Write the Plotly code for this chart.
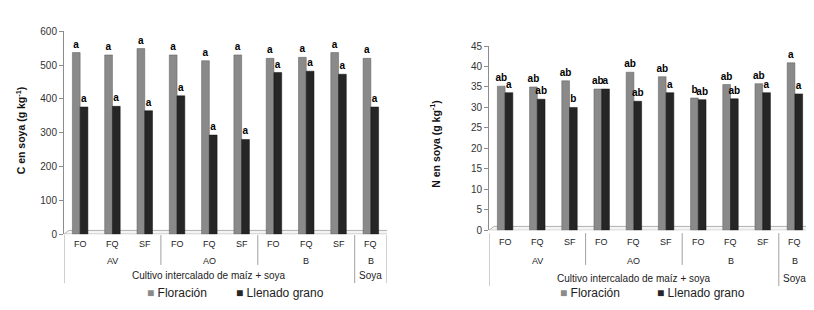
import plotly.graph_objects as go

# ---------------- data ----------------
cats = ["FO", "FQ", "SF", "FO", "FQ", "SF", "FO", "FQ", "SF", "FQ"]
sistema = ["AV", "AO", "B", "B"]
sistema_span = [(0, 2), (3, 5), (6, 8), (9, 9)]
cultivo = ["Cultivo intercalado de maíz + soya", "Soya"]
cultivo_span = [(0, 8), (9, 9)]

c_flor = [537, 530, 549, 530, 513, 530, 520, 523, 537, 520]
c_llen = [376, 378, 365, 409, 293, 280, 478, 482, 473, 376]
c_flor_lbl = ["a"] * 10
c_llen_lbl = ["a"] * 10

n_flor = [35.2, 35.0, 36.5, 34.5, 38.6, 37.5, 32.3, 35.6, 35.8, 40.9]
n_llen = [33.6, 32.0, 30.0, 34.5, 31.5, 33.6, 31.9, 32.1, 33.6, 33.3]
n_flor_lbl = ["ab", "ab", "ab", "ab", "ab", "ab", "b", "ab", "ab", "a"]
n_llen_lbl = ["a", "ab", "b", "a", "ab", "a", "ab", "ab", "a", "a"]

series_names = ["Floración", "Llenado grano"]
# --------------------------------------

W, H = 814, 310
COL_F = "#8a8a8a"
COL_L = "#262626"
FONT = "Liberation Sans"

def py(p):  # pixel row -> paper y
    return 1 - p / H

idx = list(range(len(cats)))
fig = go.Figure()

panels = [
    dict(xa="x", ya="y", flor=c_flor, llen=c_llen, fl=c_flor_lbl, ll=c_llen_lbl,
         rows=(239, 257, 272), sep_short=261, sep_long=280, floor_h=11,
         legx=(137, 226)),
    dict(xa="x2", ya="y2", flor=n_flor, llen=n_llen, fl=n_flor_lbl, ll=n_llen_lbl,
         rows=(237, 257, 275), sep_short=261, sep_long=283, floor_h=0.95,
         legx=(550, 647)),
]

def lab(x, y, xref, text, size=9):
    fig.add_annotation(x=x, y=y, xref=xref, yref="paper", text=text, showarrow=False,
                       xanchor="center", yanchor="middle",
                       font=dict(family=FONT, size=size, color="#222"))

for p in panels:
    for vals, lbl, name, col in [(p["flor"], p["fl"], series_names[0], COL_F),
                                 (p["llen"], p["ll"], series_names[1], COL_L)]:
        fig.add_trace(go.Bar(
            x=idx, y=vals, name=name, xaxis=p["xa"], yaxis=p["ya"],
            marker=dict(color=col, line=dict(color="#5a5a5a" if col == COL_F else "#111111", width=0.5)),
            text=lbl, textposition="outside", cliponaxis=False,
            textfont=dict(family=FONT, size=10, color="#000000", weight="bold"),
            showlegend=False,
        ))

    axref = p["xa"]
    yref = p["ya"]
    # floor (3D base)
    fh = p["floor_h"]
    fig.add_shape(type="path", xref=axref, yref=yref,
                  path=f"M -0.5,0 L 9.5,0 L 9.72,{fh} L -0.35,{fh} Z",
                  fillcolor="#f4f4f4", line=dict(color="#b0b0b0", width=1), layer="below")
    # category level labels
    for i, c in enumerate(cats):
        lab(i, py(p["rows"][0]), axref, c)
    for s, (a, b) in zip(sistema, sistema_span):
        lab((a + b) / 2, py(p["rows"][1]), axref, s)
    for s, (a, b) in zip(cultivo, cultivo_span):
        lab((a + b) / 2, py(p["rows"][2]), axref, s, size=10)
    # separators
    for xs in [2.5, 5.5]:
        fig.add_shape(type="line", xref=axref, yref="paper", x0=xs, x1=xs,
                      y0=py(p["rows"][0] - 9), y1=py(p["sep_short"]), line=dict(color="#a0a0a0", width=1))
    for xs in [-0.5, 8.5, 9.5]:
        fig.add_shape(type="line", xref=axref, yref="paper", x0=xs, x1=xs,
                      y0=py(p["rows"][0] - 9), y1=py(p["sep_long"]), line=dict(color="#a0a0a0", width=1))
    # legend (manual, tight like the original)
    for lx, name, col in zip(p["legx"], series_names, [COL_F, COL_L]):
        fig.add_annotation(x=lx / W, y=py(290), xref="paper", yref="paper",
                           xanchor="left", yanchor="middle",
                           text=f"<span style='color:{col}'>■</span> {name}", showarrow=False,
                           font=dict(family=FONT, size=12, color="#222"))

xcommon = dict(range=[-0.5, 9.5], showticklabels=False, showline=False, showgrid=False,
               zeroline=False, ticks="")
ycommon = dict(showgrid=False, zeroline=False, showline=True, linecolor="#8c8c8c", linewidth=1,
               ticks="outside", ticklen=4, tickcolor="#8c8c8c",
               tickfont=dict(family=FONT, size=10, color="#333"))

fig.update_layout(
    width=W, height=H, margin=dict(l=0, r=0, t=0, b=0),
    paper_bgcolor="white", plot_bgcolor="white",
    barmode="group", bargap=0.52, bargroupgap=0,
    xaxis=dict(domain=[56 / W, 379 / W], anchor="y", **xcommon),
    yaxis=dict(domain=[py(229), py(18)], range=[0, 600], dtick=100, anchor="x", **ycommon),
    xaxis2=dict(domain=[481 / W, 803 / W], anchor="y2", **xcommon),
    yaxis2=dict(domain=[py(225), py(33.3)], range=[0, 45], dtick=5, anchor="x2", **ycommon),
    showlegend=False,
    uniformtext=dict(minsize=10, mode="show"),
)

for tx, tyy, t in [(12, 121, "<b>C en soya (g kg<sup>-1</sup>)</b>"),
                   (427, 135, "<b>N en soya (g kg<sup>-1</sup>)</b>")]:
    fig.add_annotation(x=tx / W, y=py(tyy), xref="paper", yref="paper", text=t,
                       textangle=-90, showarrow=False, xanchor="center", yanchor="middle",
                       font=dict(family=FONT, size=10.5, color="#111"))

fig.write_html("out.html")
